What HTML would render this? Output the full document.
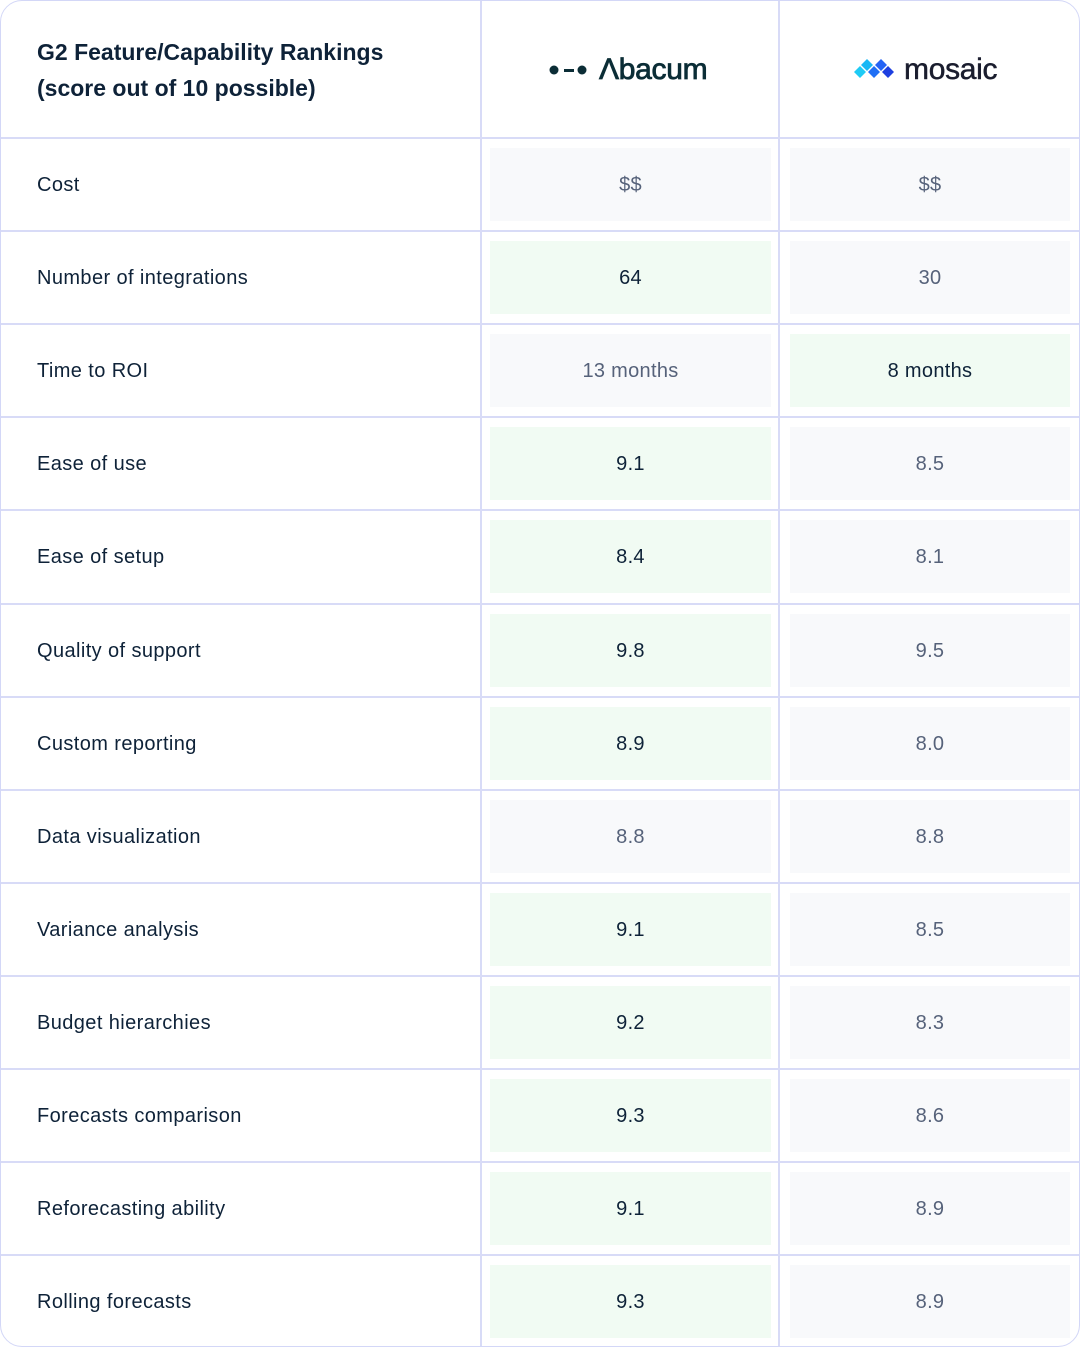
<!DOCTYPE html>
<html><head><meta charset="utf-8"><style>
body{margin:0;width:1080px;height:1347px;background:#fff;font-family:"Liberation Sans",sans-serif;overflow:hidden}
#t{position:absolute;left:0;top:0;width:1078px;height:1345px;border:1px solid #d3d7f7;border-radius:22px;overflow:hidden}
.vl{position:absolute;top:0;bottom:0;width:2px;background:#d8dbf7}
.hl{position:absolute;left:0;right:0;height:2px;background:#d8dbf7}
.lab{position:absolute;left:36px;font-size:20px;color:#0e2238;line-height:24px;letter-spacing:0.4px}
.cell{position:absolute;height:73px;display:flex;align-items:center;justify-content:center;font-size:20px;letter-spacing:0.3px;padding-top:2px;box-sizing:border-box}
.g{background:#f1fbf3;color:#0e2238}.n{background:#f8f9fb;color:#56627a}
</style></head><body>
<div id="t">
<div class="vl" style="left:479px"></div><div class="vl" style="left:777px"></div>
<div style="position:absolute;left:36px;top:33px;font-size:23px;font-weight:bold;color:#0e2238;line-height:36px">G2 Feature/Capability Rankings<br>(score out of 10 possible)</div>
<div style="position:absolute;left:548px;top:52px;display:flex;align-items:center">
<svg width="42" height="12"><circle cx="5" cy="6" r="4.5" fill="#0b2d36"/><rect x="15" y="5" width="10" height="3" fill="#0b2d36"/><circle cx="33" cy="6" r="4.5" fill="#0b2d36"/></svg>
<span style="font-size:30px;color:#0b2d36;margin-left:8px;letter-spacing:-0.3px;-webkit-text-stroke:0.8px #0b2d36">Λbacum</span></div>
<div style="position:absolute;left:852px;top:52px;display:flex;align-items:center">
<svg width="46" height="24" viewBox="0 0 46 24">
<polygon points="7,8 13,14 7,20 1,14" fill="#1ecbf5"/><polygon points="14,1 20,7 14,13 8,7" fill="#18b8f5"/><polygon points="21,8 27,14 21,20 15,14" fill="#1f6ff5"/><polygon points="28,1 34,7 28,13 22,7" fill="#2563f5"/><polygon points="35,8 41,14 35,20 29,14" fill="#1d3fe0"/></svg>
<span style="font-size:30px;color:#1a1d2e;margin-left:5px;letter-spacing:-0.3px;-webkit-text-stroke:0.5px #1a1d2e">mosaic</span></div>
<div id="rows"></div>
</div>
<script>
const labels=["Cost","Number of integrations","Time to ROI","Ease of use","Ease of setup","Quality of support","Custom reporting","Data visualization","Variance analysis","Budget hierarchies","Forecasts comparison","Reforecasting ability","Rolling forecasts"];
const abacum=["$$","64","13 months","9.1","8.4","9.8","8.9","8.8","9.1","9.2","9.3","9.1","9.3"];
const mosaic=["$$","30","8 months","8.5","8.1","9.5","8.0","8.8","8.5","8.3","8.6","8.9","8.9"];
const abWin=[0,1,0,1,1,1,1,0,1,1,1,1,1];
const moWin=[0,0,1,0,0,0,0,0,0,0,0,0,0];
const R=document.getElementById('rows');
labels.forEach((l,i)=>{
 const y=136+i*93.1;
 const h=document.createElement('div');h.className='hl';h.style.top=y+'px';
 
 
 R.appendChild(h);
 const a=document.createElement('div');a.className='lab';a.style.top=(y+36)+'px';a.textContent=l;
 
 
 R.appendChild(a);
 const c1=document.createElement('div');c1.className='cell '+(abWin[i]?'g':'n');
 c1.style.cssText+=`left:489px;width:281px;top:${y+11}px`;c1.textContent=abacum[i];
 
 
 R.appendChild(c1);
 const c2=document.createElement('div');c2.className='cell '+(moWin[i]?'g':'n');
 c2.style.cssText+=`left:789px;width:280px;top:${y+11}px`;c2.textContent=mosaic[i];
 
 
 R.appendChild(c2);
});
</script>
</body></html>
